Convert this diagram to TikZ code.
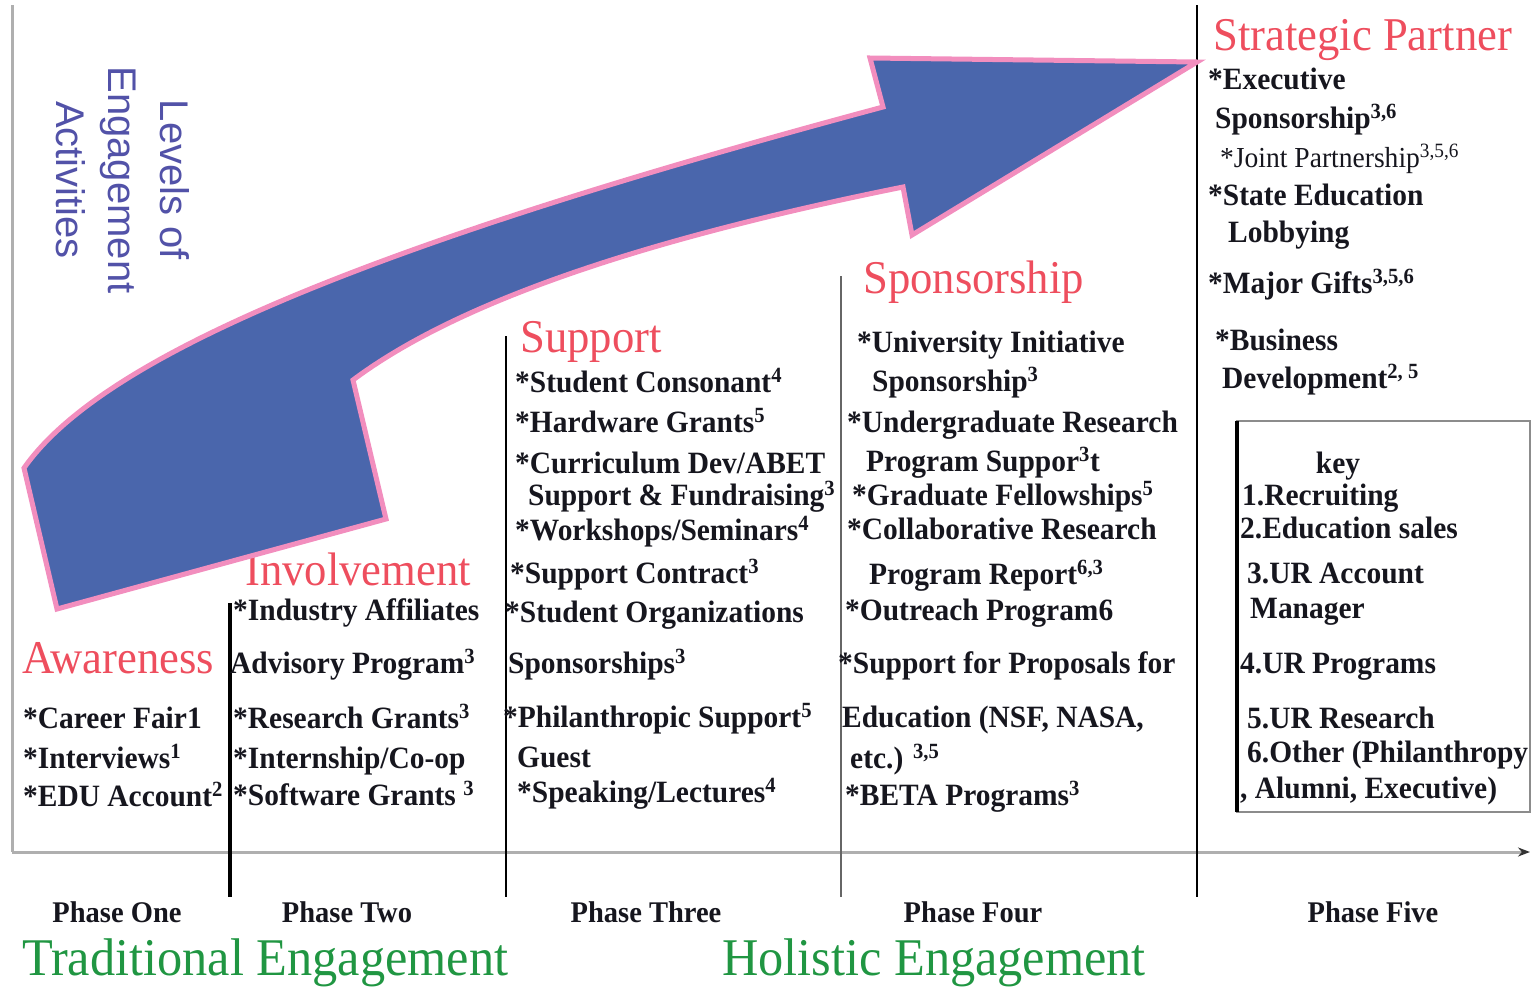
\documentclass[tikz,border=0pt]{standalone}
\usepackage{fontspec}
\setmainfont{Liberation Serif}
\setsansfont{Liberation Sans}
\newfontfamily\narrowserif[FakeStretch=0.95]{Liberation Serif}
\usetikzlibrary{arrows.meta}

\definecolor{arrowblue}{RGB}{74,102,172}
\definecolor{arrowpink}{RGB}{242,142,190}
\definecolor{stagered}{RGB}{238,78,94}
\definecolor{eragreen}{RGB}{32,150,66}
\definecolor{levelblue}{RGB}{82,82,168}
\definecolor{ink}{RGB}{22,22,30}
\definecolor{axisgray}{RGB}{175,175,175}

\newcommand\sups[1]{\textsuperscript{#1}}

\tikzset{
  item/.style={anchor=base west, inner sep=0pt, text=ink,
    font=\narrowserif\bfseries\fontsize{31}{36}\selectfont},
  thinitem/.style={item, font=\narrowserif\fontsize{29}{34}\selectfont},
  stage/.style={anchor=base west, inner sep=0pt, text=stagered,
    font=\narrowserif\fontsize{47}{52}\selectfont},
  phase/.style={anchor=base, inner sep=0pt, text=ink,
    font=\narrowserif\bfseries\fontsize{30}{34}\selectfont},
  era/.style={anchor=base west, inner sep=0pt, text=eragreen,
    font=\narrowserif\fontsize{53}{58}\selectfont},
  levels/.style={rotate=-90, align=center, inner sep=0pt, text=levelblue,
    font=\sffamily\fontsize{40}{52}\selectfont},
}

\begin{document}
\begin{tikzpicture}[x=1pt,y=-1pt]
\useasboundingbox (0,0) rectangle (1538,988);

% axes
\coordinate (ytop) at (12,5);
\coordinate (origin) at (12,852);
\coordinate (xend) at (1530,852);
\draw[axisgray, line width=3pt] (ytop) -- (origin);
\draw[axisgray, line width=3pt, -{Stealth[length=12pt,width=9pt,color=black!80]}] (origin) -- (xend);

% phase dividers
\foreach \n/\x/\t/\w/\c in {1/230/603/3.5/black, 2/506/336/2/black, 3/841/276/2/black!60, 4/1197/5/2.5/black} {
  \coordinate (d\n top) at (\x,\t);
  \coordinate (d\n bot) at (\x,897);
  \draw[\c, line width=\w pt] (d\n top) -- (d\n bot);
}

% key box
\coordinate (keyA) at (1237,421);
\coordinate (keyB) at (1530,812);
\draw[black!45, line width=1.2pt] (keyA) rectangle (keyB);
\draw[line width=3.5pt] (keyA) -- (keyA |- keyB);

% axis title
\node (levels) at (123,180)[levels] {Levels of\\Engagement\\Activities};

% phase one
\node (aware) at (22,673)[stage] {Awareness};
\foreach \y/\t [count=\i] in {728/{*Career Fair1}, 768/{*Interviews\sups{1}}, 806/{*EDU Account\sups{2}}}
  \node (aw\i) at (23,\y)[item] {\t};

% phase two
\node (involve) at (245,585)[stage] {Involvement};
\foreach \x/\y/\t [count=\i] in {233/620/{*Industry Affiliates}, 230/673/{Advisory Program\sups{3}},
    233/728/{*Research Grants\sups{3}}, 233/768/{*Internship/Co-op}, 233/805/{*Software Grants \sups{3}}}
  \node (inv\i) at (\x,\y)[item] {\t};

% phase three
\node (support) at (520,352)[stage] {Support};
\foreach \x/\y/\t [count=\i] in {515/392/{*Student Consonant\sups{4}}, 515/432/{*Hardware Grants\sups{5}},
    515/473/{*Curriculum Dev/ABET}, 528/505/{Support \& Fundraising\sups{3}},
    515/540/{*Workshops/Seminars\sups{4}}, 510/583/{*Support Contract\sups{3}},
    505/622/{*Student Organizations}, 508/673/{Sponsorships\sups{3}},
    503/727/{*Philanthropic Support\sups{5}}, 517/767/{Guest}, 517/802/{*Speaking/Lectures\sups{4}}}
  \node (sup\i) at (\x,\y)[item] {\t};

% phase four
\node (sponsor) at (863,293)[stage] {Sponsorship};
\foreach \x/\y/\t [count=\i] in {857/352/{*University Initiative}, 872/391/{Sponsorship\sups{3}},
    847/432/{*Undergraduate Research}, 866/471/{Program Suppor\sups{3}t},
    852/505/{*Graduate Fellowships\sups{5}}, 847/539/{*Collaborative Research},
    869/584/{Program Report\sups{6,3}}, 845/620/{*Outreach Program6},
    838/673/{*Support for Proposals for}, 842/727/{Education (NSF, NASA,},
    850/768/{etc.) \sups{3,5}}, 845/805/{*BETA Programs\sups{3}}}
  \node (spo\i) at (\x,\y)[item] {\t};

% phase five
\node (partner) at (1213,50)[stage] {Strategic Partner};
\foreach \x/\y/\t [count=\i] in {1208/89/{*Executive}, 1215/128/{Sponsorship\sups{3,6}},
    1208/205/{*State Education}, 1228/242/{Lobbying}, 1208/293/{*Major Gifts\sups{3,5,6}},
    1215/350/{*Business}, 1222/388/{Development\sups{2, 5}}}
  \node (par\i) at (\x,\y)[item] {\t};
\node (joint) at (1220,167)[thinitem] {*Joint Partnership\sups{3,5,6}};

% key
\node (keytitle) at (1338,473)[item, anchor=base] {key};
\foreach \x/\y/\t [count=\i] in {1242/505/{1.Recruiting}, 1240/538/{2.Education sales},
    1247/583/{3.UR Account}, 1250/618/{Manager}, 1240/673/{4.UR Programs},
    1247/728/{5.UR Research}, 1247/762/{6.Other (Philanthropy}, 1240/798/{, Alumni, Executive)}}
  \node (key\i) at (\x,\y)[item] {\t};

% the big arrow
\draw[arrowpink, line width=5pt, fill=arrowblue, line join=miter]
  (57,609) -- (24,468) .. controls (100,360) and (350,250) .. (883,107)
  -- (870,58) -- (1197,62) -- (912,235) -- (903,187)
  .. controls (650,238) and (460,300) .. (353,380) -- (386,519) -- cycle;

% phases
\foreach \x/\t [count=\i] in {117/One, 347/Two, 646/Three, 973/Four, 1373/Five}
  \node (ph\i) at (\x,922)[phase] {Phase \t};
\node (trad) at (22,975)[era] {Traditional Engagement};
\node (holist) at (722,975)[era] {Holistic Engagement};
\end{tikzpicture}
\end{document}
